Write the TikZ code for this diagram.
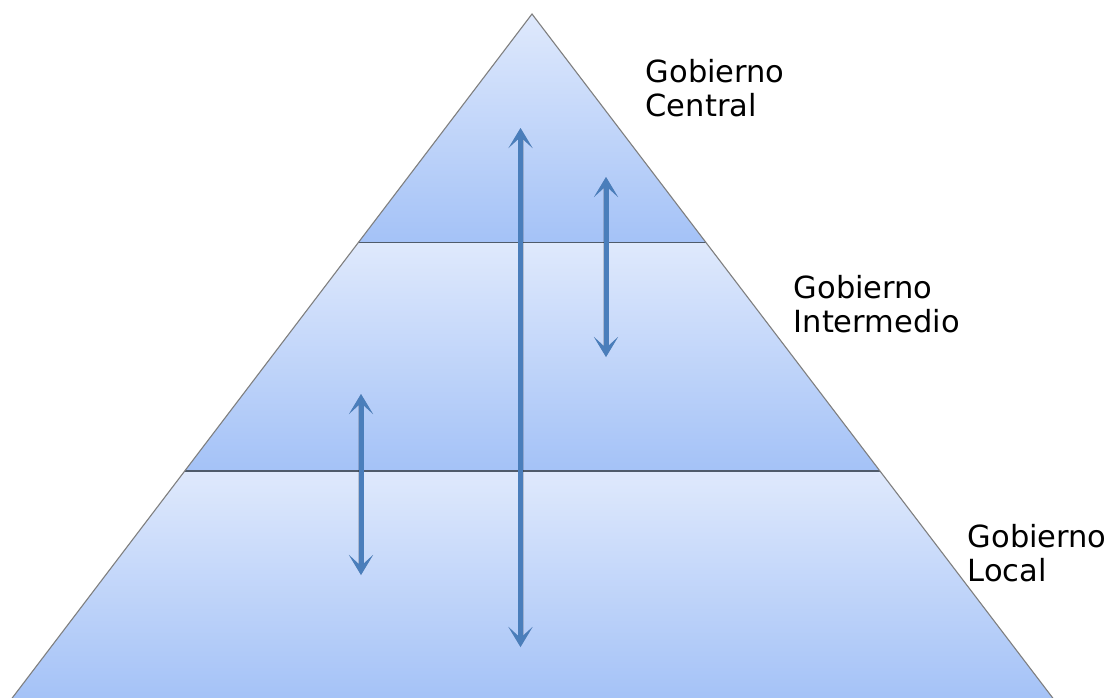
\documentclass[tikz,border=0pt]{standalone}
\usepackage{fontspec}
\setmainfont{DejaVu Sans}
\usetikzlibrary{arrows.meta}
\definecolor{edgegray}{HTML}{7F7F7F}
\definecolor{divline}{HTML}{4F5B6B}
\definecolor{bandtop}{HTML}{DFE9FC}
\definecolor{bandbot}{HTML}{A4C2F7}
\definecolor{arrowblue}{HTML}{4A7EBB}
\begin{document}
\begin{tikzpicture}[x=1pt,y=-1pt,
  band/.style={top color=bandtop,bottom color=bandbot},
  divider/.style={draw=divline,line width=1.2pt},
  outline/.style={draw=edgegray,line width=1.1pt},
  twoway/.style={draw=arrowblue,line width=5pt,
    {Stealth[length=20pt,width=24pt,inset=11pt,line width=1pt]}-{Stealth[length=20pt,width=24pt,inset=11pt,line width=1pt]}},
  twowayshadow/.style={draw=black,opacity=0.16,line width=6pt,
    {Stealth[length=20pt,width=24pt,inset=11pt,line width=1pt]}-{Stealth[length=20pt,width=24pt,inset=11pt,line width=1pt]}},
  lbl/.style={anchor=base west,inner sep=0pt,font=\fontsize{30.5}{34}\selectfont}]
\useasboundingbox (0,0) rectangle (1109,697);
\clip (0,0) rectangle (1109,697);

% pyramid corners and tier boundaries
\coordinate (apex) at (532,14);
\coordinate (l1) at (358.4,242.5);
\coordinate (r1) at (706.0,242.5);
\coordinate (l2) at (184.7,471);
\coordinate (r2) at (879.9,471);
\coordinate (bl) at (10.7,700);
\coordinate (br) at (1054.3,700);

% tiers
\shade[band] (apex) -- (r1) -- (l1) -- cycle;
\shade[band] (l1) -- (r1) -- (r2) -- (l2) -- cycle;
\shade[band] (l2) -- (r2) -- (br) -- (bl) -- cycle;

\path[divider] (l1) -- (r1);
\path[divider] (l2) -- (r2);
\path[outline] (bl) -- (apex) -- (br);

% arrow end points
\coordinate (longtop) at (520.5,128);
\coordinate (longbot) at (520.5,647);
\coordinate (uptop) at (606,177);
\coordinate (upbot) at (606,357);
\coordinate (lowtop) at (361,394);
\coordinate (lowbot) at (361,575);

% soft shadows under the arrows
\begin{scope}[shift={(1.5,2)}]
  \path[twowayshadow] (longtop) -- (longbot);
  \path[twowayshadow] (uptop) -- (upbot);
  \path[twowayshadow] (lowtop) -- (lowbot);
\end{scope}

\path[twoway] (longtop) -- (longbot);
\path[twoway] (uptop) -- (upbot);
\path[twoway] (lowtop) -- (lowbot);

% tier labels
\node[lbl] (central1) at (645.5,82) {Gobierno};
\node[lbl] (central2) at (645.5,116) {Central};
\node[lbl] (inter1) at (793.5,298) {Gobierno};
\node[lbl] (inter2) at (793.5,332) {Intermedio};
\node[lbl] (local1) at (967.5,547) {Gobierno};
\node[lbl] (local2) at (967.5,581) {Local};
\end{tikzpicture}
\end{document}
